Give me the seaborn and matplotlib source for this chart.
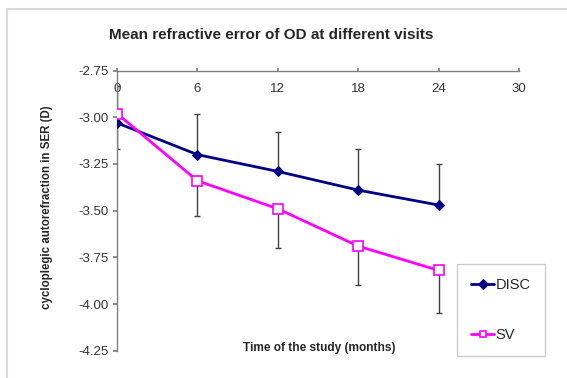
import numpy as np
import pandas as pd
import matplotlib
matplotlib.use("Agg")
import matplotlib.pyplot as plt
from matplotlib.patches import Rectangle
import seaborn as sb

# values
months = [0, 6, 12, 18, 24]
disc = [-3.03, -3.20, -3.29, -3.39, -3.47]
sv = [-2.98, -3.34, -3.49, -3.69, -3.82]
disc_err_up = [0.20, 0.22, 0.21, 0.22, 0.22]
sv_err_down = [0.19, 0.19, 0.21, 0.21, 0.23]

xticks = [0, 6, 12, 18, 24, 30]
yticks = [-2.75, -3.00, -3.25, -3.50, -3.75, -4.00, -4.25]

df = pd.DataFrame({"Time": months * 2,
                   "SER": disc + sv,
                   "Group": ["DISC"] * 5 + ["SV"] * 5})

sb.set_theme(style="white")
plt.rcParams['font.family'] = ['Liberation Sans', 'DejaVu Sans']

fig = plt.figure(figsize=(5.67, 3.78), dpi=100)
ax = fig.add_axes([117/567, 1 - 350.7/378, (519 - 117)/567, (350.7 - 70.6)/378])

# outer chart border (only left/top visible)
fig.patches.append(Rectangle((7/567, -0.1), 1.2, 1 - 9/378 + 0.1, transform=fig.transFigure,
                             fill=False, edgecolor="#d9d9d9", linewidth=1.5))

# error bars: DISC upward, SV downward
ax.errorbar(months, disc, yerr=[np.zeros(5), disc_err_up], fmt="none",
            ecolor="#404040", elinewidth=1, capsize=2, capthick=1, zorder=2)
ax.errorbar(months, sv, yerr=[sv_err_down, np.zeros(5)], fmt="none",
            ecolor="#404040", elinewidth=1, capsize=2, capthick=1, zorder=2)

d = df[df["Group"] == "DISC"]
sb.lineplot(data=d, x="Time", y="SER", ax=ax, color="#000080", linewidth=2,
            marker="D", markersize=5, markerfacecolor="#000080",
            markeredgecolor="#000080", label="DISC", zorder=3)
s = df[df["Group"] == "SV"]
sb.lineplot(data=s, x="Time", y="SER", ax=ax, color="#ff00ff", linewidth=2,
            marker="s", markersize=7.5, markerfacecolor="white",
            markeredgecolor="#ff00ff", markeredgewidth=1.2, label="SV", zorder=4)

ax.set_xlim(0, 30)
ax.set_ylim(-4.25, -2.75)
ax.set_xticks(xticks)
ax.set_yticks(yticks)
ax.set_yticklabels([f"{v:.2f}" for v in yticks])

for sp in ["bottom", "right"]:
    ax.spines[sp].set_visible(False)
for sp in ["top", "left"]:
    ax.spines[sp].set_color("#808080")
    ax.spines[sp].set_linewidth(1)

ax.xaxis.tick_top()
ax.tick_params(axis="x", top=True, bottom=False, labeltop=True, labelbottom=False,
               direction="out", length=2.5, color="#808080", pad=-20,
               labelsize=9.5, labelcolor="#333333")
ax.tick_params(axis="y", left=True, direction="out", length=3, color="#808080",
               pad=3, labelsize=9.5, labelcolor="#333333")

ax.set_xlabel("")
ax.set_ylabel("")
fig.text(271/567, 1 - 35/378, "Mean refractive error of OD at different visits",
         ha="center", va="center", fontsize=11, fontweight="bold")
fig.text(47/567, 1 - 207/378, "cycloplegic autorefraction in SER (D)",
         ha="center", va="center", rotation=90, fontsize=8.3, fontweight="bold")
fig.text(319/567, 1 - 348/378, "Time of the study (months)",
         ha="center", va="center", fontsize=8.6, fontweight="bold")

leg = ax.legend(loc="upper left", bbox_to_anchor=(457/567, 1 - 264/378),
                bbox_transform=fig.transFigure, frameon=True, fancybox=False,
                edgecolor="#c0c0c0", fontsize=10.5, labelspacing=2.5,
                handlelength=1.6, handletextpad=0.1, borderpad=0.95,
                borderaxespad=0)
leg.get_frame().set_linewidth(1)
for h in leg.legend_handles:
    h.set_markersize(5)

fig.savefig("out.png", dpi=100)
